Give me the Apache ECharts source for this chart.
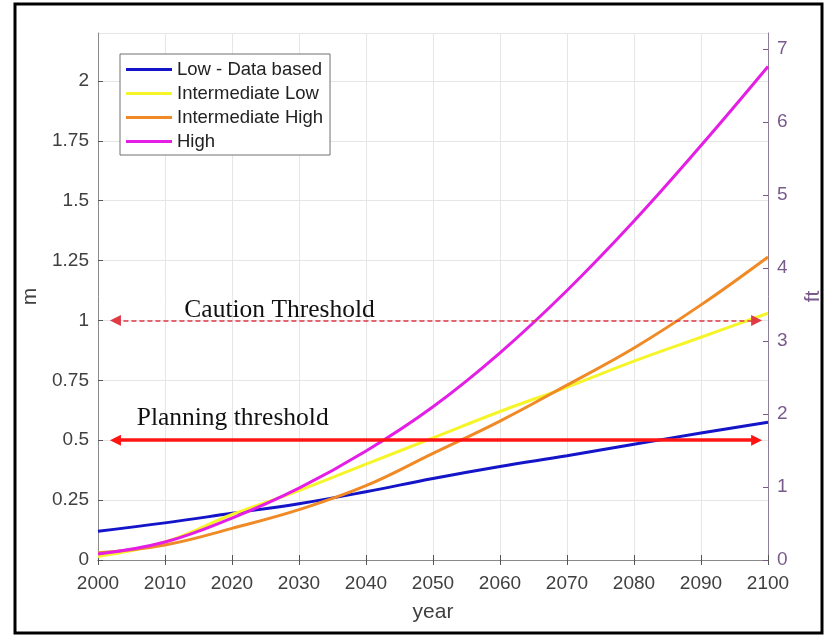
<!DOCTYPE html>
<html>
<head>
<meta charset="utf-8">
<script src="https://cdn.jsdelivr.net/npm/echarts@6/dist/echarts.min.js"></script>
<style>
  html, body { margin: 0; padding: 0; background: #ffffff; }
  #chart { width: 827px; height: 635px; }
</style>
</head>
<body>
<div id="chart"></div>
<script>
// Sea level rise scenarios, metres above the 2000 level
const years = [2000, 2010, 2020, 2030, 2040, 2050, 2060, 2070, 2080, 2090, 2100];
const lowDataBased      = [0.12, 0.155, 0.195, 0.235, 0.285, 0.34, 0.39, 0.435, 0.483, 0.53, 0.575];
const intermediateLow   = [0.015, 0.075, 0.19, 0.29, 0.40, 0.51, 0.62, 0.722, 0.83, 0.93, 1.03];
const intermediateHigh  = [0.03, 0.063, 0.132, 0.21, 0.31, 0.445, 0.58, 0.73, 0.885, 1.065, 1.265];
const high              = [0.025, 0.075, 0.175, 0.30, 0.455, 0.64, 0.865, 1.125, 1.415, 1.73, 2.06];

const seriesNames = ['Low - Data based', 'Intermediate Low', 'Intermediate High', 'High'];
const seriesColors = ['#1414c8', '#f5f52a', '#f08a26', '#e41ee4'];

// Thresholds (m)
const cautionLevel = 1.0;
const planningLevel = 0.5;

// Axis ranges
const mMax = 2.2;
const M_TO_FT = 3.28084;

const pairs = v => years.map((y, i) => [y, v[i]]);

const tickFont = { fontFamily: 'Liberation Sans', fontSize: 19, color: '#404040' };
const rightColor = '#7a5a8c';
const axisGrey = '#8a8a8a';

const chart = echarts.init(document.getElementById('chart'));

const dataSeries = [lowDataBased, intermediateLow, intermediateHigh, high].map((v, i) => ({
  name: seriesNames[i],
  type: 'line',
  data: pairs(v),
  smooth: 0.4,
  showSymbol: false,
  lineStyle: { width: 3, color: seriesColors[i] },
  itemStyle: { color: seriesColors[i] },
  z: 3
}));

const annotationFont = { fontFamily: 'Liberation Serif', fontSize: 25.5, color: '#111111' };

const option = {
  animation: false,
  backgroundColor: '#ffffff',
  grid: { left: 98, right: 59, top: 33, bottom: 75, containLabel: false, outerBoundsMode: 'none' },
  legend: {
    data: seriesNames,
    orient: 'vertical',
    left: 120,
    top: 54,
    itemWidth: 46,
    itemHeight: 3,
    itemGap: 5,
    icon: 'rect',
    padding: [6, 7, 4, 6],
    backgroundColor: '#ffffff',
    borderColor: '#707070',
    borderWidth: 1,
    textStyle: { fontFamily: 'Liberation Sans', fontSize: 18.5, color: '#222222' }
  },
  xAxis: [
    {
      type: 'value', min: 2000, max: 2100, interval: 10,
      name: 'year', nameLocation: 'middle', nameGap: 42,
      nameTextStyle: { fontFamily: 'Liberation Sans', fontSize: 21, color: '#404040' },
      axisLine: { show: true, lineStyle: { color: axisGrey, width: 1 } },
      axisTick: { show: true, inside: true, length: 5, lineStyle: { color: '#555' } },
      axisLabel: Object.assign({ margin: 14, formatter: v => String(v) }, tickFont),
      splitLine: { show: true, lineStyle: { color: '#e6e6e6', width: 1 } }
    },
    {
      type: 'value', min: 2000, max: 2100, interval: 10, position: 'top',
      axisLine: { show: true, lineStyle: { color: axisGrey, width: 1 } },
      axisTick: { show: true, inside: true, length: 5, lineStyle: { color: '#555' } },
      axisLabel: { show: false },
      splitLine: { show: false }
    }
  ],
  yAxis: [
    {
      type: 'value', min: 0, max: mMax, interval: 0.25,
      name: 'm', nameLocation: 'middle', nameGap: 53, nameRotate: 90,
      nameTextStyle: { fontFamily: 'Liberation Sans', fontSize: 21, color: '#404040' },
      axisLine: { show: true, lineStyle: { color: axisGrey, width: 1 } },
      axisTick: { show: true, inside: true, length: 5, lineStyle: { color: '#555' } },
      axisLabel: Object.assign({ margin: 9, showMaxLabel: false }, tickFont),
      splitLine: { show: true, lineStyle: { color: '#e6e6e6', width: 1 } }
    },
    {
      type: 'value', min: 0, max: mMax * M_TO_FT, interval: 1, position: 'right',
      name: 'ft', nameLocation: 'middle', nameGap: 35, nameRotate: 90,
      nameTextStyle: { fontFamily: 'Liberation Sans', fontSize: 21, color: rightColor },
      axisLine: { show: true, lineStyle: { color: '#8e7f98', width: 1 } },
      axisTick: { show: true, inside: true, length: 5, lineStyle: { color: rightColor } },
      axisLabel: { margin: 9, showMaxLabel: false, fontFamily: 'Liberation Sans', fontSize: 19, color: rightColor },
      splitLine: { show: false }
    }
  ],
  series: dataSeries.concat([
    {
      name: 'thresholds',
      type: 'line',
      data: [],
      z: 5,
      markLine: {
        silent: true,
        symbol: ['triangle', 'triangle'],
        symbolSize: [11, 11],
        label: { show: false },
        emphasis: { disabled: true },
        data: [
          [
            { coord: [2002.6, cautionLevel], lineStyle: { color: '#e03a44', width: 1.6, type: [5, 3] } },
            { coord: [2098.3, cautionLevel] }
          ],
          [
            { coord: [2002.6, planningLevel], lineStyle: { color: '#ff1414', width: 3.5, type: 'solid' } },
            { coord: [2098.3, planningLevel] }
          ]
        ]
      },
      markPoint: {
        silent: true,
        symbol: 'circle',
        symbolSize: 0,
        data: [
          { coord: [2027.1, cautionLevel + 0.042], label: Object.assign({ show: true, position: 'inside', formatter: 'Caution Threshold' }, annotationFont) },
          { coord: [2020.1, planningLevel + 0.092], label: Object.assign({ show: true, position: 'inside', formatter: 'Planning threshold' }, annotationFont) }
        ]
      }
    }
  ]),
  graphic: [
    {
      type: 'rect',
      shape: { x: 15, y: 4, width: 807, height: 629 },
      style: { fill: 'none', stroke: '#000000', lineWidth: 3 },
      silent: true,
      z: 100
    }
  ]
};

chart.setOption(option);
</script>
</body>
</html>
